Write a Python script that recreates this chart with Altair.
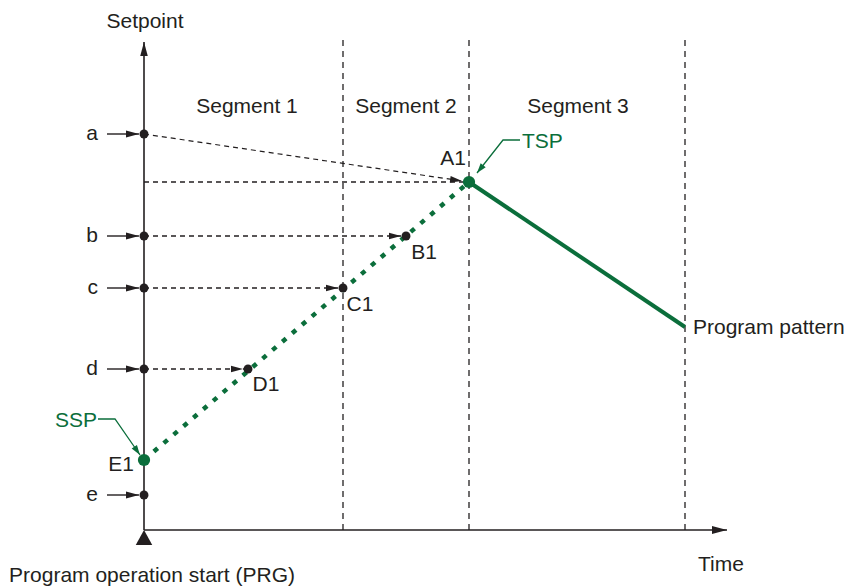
import altair as alt
import pandas as pd
import numpy as np

# ---------------- data (time / setpoint units) ----------------
segment_ends = [199, 325, 541]
segment_labels = ["Segment 1", "Segment 2", "Segment 3"]
segment_label_times = [103, 262, 434]
segment_label_value = 417

level_names = ["a", "b", "c", "d", "e"]
level_values = [396, 294, 242, 161, 35]

point_names = ["A1", "B1", "C1", "D1", "E1"]
point_times = [325, 262, 199, 104, 0]
point_values = [348, 294, 242, 161, 70]

pattern_end_time = 541
pattern_end_value = 203

time_axis_end = 583
setpoint_axis_end = 488
segment_line_top = 490

# callouts: polyline points (time, value)
ssp_t = [-46, -29, -4]
ssp_v = [111, 111, 75]
tsp_t = [376, 359, 333]
tsp_v = [390, 390, 357]

# ---------------- styles ----------------
BLACK = "#231f20"
GREEN = "#0b6e3b"
FONT = "Liberation Sans"
FS = 21

X = alt.Scale(domain=[-136, 703], nice=False, zero=False)
Y = alt.Scale(domain=[-56, 522], nice=False, zero=False)


def xe(f="t"):
    return alt.X(f"{f}:Q", scale=X, axis=None)


def ye(f="v"):
    return alt.Y(f"{f}:Q", scale=Y, axis=None)


def rules(df, color, width, dash=None):
    kw = dict(color=color, strokeWidth=width, strokeCap="butt")
    if dash:
        kw["strokeDash"] = dash
    return alt.Chart(df).mark_rule(**kw).encode(
        x=xe("t"), y=ye("v"), x2="t2:Q", y2="v2:Q")


def head(df, path, size, color=BLACK, angle=0, xo=0, yo=0):
    return alt.Chart(df).mark_point(
        shape=path, size=size, filled=True, opacity=1, color=color,
        strokeWidth=0, angle=float(angle) % 360, xOffset=xo, yOffset=yo,
    ).encode(x=xe("t"), y=ye("v"))


def text(df, txt, align="center", color=BLACK, dx=0, dy=0):
    return alt.Chart(df).mark_text(
        text=txt, align=align, baseline="alphabetic", font=FONT,
        fontSize=FS, color=color, dx=dx, dy=dy,
    ).encode(x=xe("t"), y=ye("v"))


RIGHT = "M0,0L-1,-0.27L-1,0.27Z"
UP = "M0,0L0.27,1L-0.27,1Z"
layers = []

# segment boundary dashed lines
seg_df = pd.DataFrame({"t": segment_ends, "t2": segment_ends,
                       "v": [0] * 3, "v2": [segment_line_top] * 3})
layers.append(rules(seg_df, BLACK, 1.3, [6, 5]))

# dashed horizontal arrows from setpoint axis to points
pv = dict(zip(point_names, zip(point_times, point_values)))
lv = dict(zip(level_names, level_values))
pairs = [("b", "B1"), ("c", "C1"), ("d", "D1")]
hd = pd.DataFrame({
    "t": [0] * 4, "v": [lv[a] for a, _ in pairs] + [pv["A1"][1]],
    "t2": [pv[b][0] for _, b in pairs] + [pv["A1"][0]],
    "v2": [pv[b][1] for _, b in pairs] + [pv["A1"][1]],
})
layers.append(rules(hd, BLACK, 1.3, [5, 4]))
diag = pd.DataFrame({"t": [0], "v": [lv["a"]], "t2": [pv["A1"][0]], "v2": [pv["A1"][1]]})
layers.append(rules(diag, BLACK, 1.2, [5, 4]))

# green program pattern
dotted = pd.DataFrame({"t": [pv["E1"][0]], "v": [pv["E1"][1]],
                       "t2": [pv["A1"][0]], "v2": [pv["A1"][1]]})
layers.append(rules(dotted, GREEN, 4.5, [5, 8]))
solid = pd.DataFrame({"t": [pv["A1"][0]], "v": [pv["A1"][1]],
                      "t2": [pattern_end_time], "v2": [pattern_end_value]})
layers.append(rules(solid, GREEN, 4))

# axes
axes_df = pd.DataFrame({"t": [0, 0], "v": [0, 0], "t2": [0, time_axis_end],
                        "v2": [setpoint_axis_end, 0]})
layers.append(rules(axes_df, BLACK, 1.6))
layers.append(head(pd.DataFrame({"t": [0], "v": [setpoint_axis_end]}), UP, 784))
layers.append(head(pd.DataFrame({"t": [time_axis_end], "v": [0]}), RIGHT, 900))
layers.append(head(pd.DataFrame({"t": [0], "v": [0]}), "M0,0L0.55,1L-0.55,1Z", 900))

# level arrows at the left of the axis
arrow_len = 32
la = pd.DataFrame({"t": [-arrow_len - 5] * 5, "v": level_values,
                   "t2": [-5] * 5, "v2": level_values})
layers.append(rules(la, BLACK, 1.4))
layers.append(head(pd.DataFrame({"t": [0] * 5, "v": level_values}), RIGHT, 676, xo=-5))
for n, v in zip(level_names, level_values):
    layers.append(text(pd.DataFrame({"t": [-arrow_len - 5], "v": [v]}), n,
                       align="right", dx=-9, dy=6))

# arrowheads on dashed lines
for a, b in pairs:
    layers.append(head(pd.DataFrame({"t": [pv[b][0]], "v": [pv[b][1]]}), RIGHT, 576, xo=-5))
ang = np.degrees(np.arctan2(lv["a"] - pv["A1"][1], pv["A1"][0]))
layers.append(head(pd.DataFrame({"t": [pv["A1"][0]], "v": [pv["A1"][1]]}), RIGHT, 576,
                   angle=ang, xo=-7 * np.cos(np.radians(ang)),
                   yo=-7 * np.sin(np.radians(ang))))

# dots
level_pts = pd.DataFrame({"t": [0] * 5, "v": level_values})
layers.append(alt.Chart(level_pts).mark_circle(size=80, opacity=1, color=BLACK)
              .encode(x=xe("t"), y=ye("v")))
bl = pd.DataFrame({"t": [pv[n][0] for n in ["B1", "C1", "D1"]],
                   "v": [pv[n][1] for n in ["B1", "C1", "D1"]]})
layers.append(alt.Chart(bl).mark_circle(size=80, opacity=1, color=BLACK)
              .encode(x=xe("t"), y=ye("v")))
gr = pd.DataFrame({"t": [pv[n][0] for n in ["A1", "E1"]],
                   "v": [pv[n][1] for n in ["A1", "E1"]]})
layers.append(alt.Chart(gr).mark_circle(size=150, opacity=1, color=GREEN)
              .encode(x=xe("t"), y=ye("v")))

# callouts
for ts, vs, lab, al, ldx in [(ssp_t, ssp_v, "SSP", "right", -1), (tsp_t, tsp_v, "TSP", "left", 2)]:
    cdf = pd.DataFrame({"t": ts, "v": vs, "o": range(len(ts))})
    layers.append(alt.Chart(cdf).mark_line(color=GREEN, strokeWidth=1.3)
                  .encode(x=xe("t"), y=ye("v"), order="o:Q"))
    a = np.degrees(np.arctan2(vs[1] - vs[2], ts[2] - ts[1]))
    layers.append(head(pd.DataFrame({"t": [ts[2]], "v": [vs[2]]}), "M0,0L-1,-0.32L-1,0.32Z",
                       400, color=GREEN, angle=a))
    layers.append(text(pd.DataFrame({"t": [ts[0]], "v": [vs[0]]}), lab, align=al,
                       color=GREEN, dx=ldx, dy=8))

# point labels
offsets = {"A1": (-16, -17), "B1": (18, 23), "C1": (17, 23), "D1": (18, 22), "E1": (-23, 11)}
for n in point_names:
    dx, dy = offsets[n]
    layers.append(text(pd.DataFrame({"t": [pv[n][0]], "v": [pv[n][1]]}), n, dx=dx, dy=dy))

# segment labels
for lab, t in zip(segment_labels, segment_label_times):
    layers.append(text(pd.DataFrame({"t": [t], "v": [segment_label_value]}), lab))

# other labels
layers.append(text(pd.DataFrame({"t": [pattern_end_time], "v": [pattern_end_value]}),
                   "Program pattern", align="left", dx=8, dy=7))
layers.append(text(pd.DataFrame({"t": [time_axis_end], "v": [0]}), "Time", dx=-6, dy=41))
layers.append(text(pd.DataFrame({"t": [0], "v": [setpoint_axis_end]}), "Setpoint", dx=1, dy=-14))
layers.append(text(pd.DataFrame({"t": [0], "v": [0]}), "Program operation start (PRG)",
                   dx=8, dy=52))

chart = alt.layer(*layers).properties(
    width=839, height=578, padding=0,
    autosize=alt.AutoSizeParams(type="none"),
).configure_view(stroke=None)

chart.save("out.html", embed_options={"renderer": "svg", "actions": False})
